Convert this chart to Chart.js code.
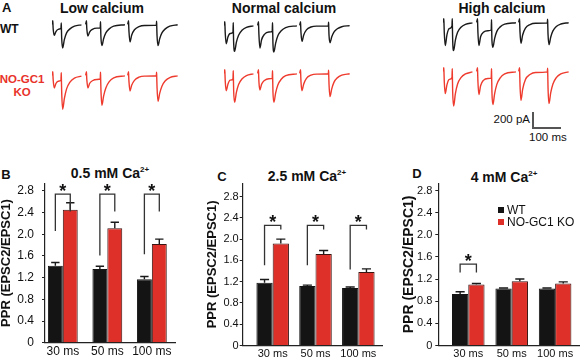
<!DOCTYPE html>
<html>
<head>
<meta charset="utf-8">
<script src="https://cdn.jsdelivr.net/npm/chart.js@4.4.1/dist/chart.umd.min.js"></script>
<style>
  body { margin: 0; background: #fff; }
  #fig { position: relative; width: 580px; height: 358px; overflow: hidden; font-family: "Liberation Sans", Arial, sans-serif; color: #111; }
  #fig canvas { position: absolute; }
  .lbl { position: absolute; white-space: nowrap; line-height: 1; }
  .c { transform: translate(-50%, -50%); }
  .v { transform: translateY(-50%); }
  .b { font-weight: bold; }
  .red { color: #e8322a; }
  sup { font-size: 8px; vertical-align: 6px; line-height: 0; }
  .sb { position: absolute; background: #555; }
  .key { position: absolute; width: 6px; height: 6px; }
</style>
</head>
<body>
<div id="fig">
  <!-- A: example traces -->
  <div class="lbl b" style="left:2px;top:1px;font-size:13px">A</div>
  <div class="lbl c b" style="left:102px;top:8px;font-size:14px">Low calcium</div>
  <div class="lbl c b" style="left:284px;top:8px;font-size:14px">Normal calcium</div>
  <div class="lbl c b" style="left:502px;top:8px;font-size:14px">High calcium</div>
  <div class="lbl v b" style="left:0;top:29px;font-size:12px">WT</div>
  <div class="lbl c b red" style="left:22px;top:80px;font-size:11.5px">NO-GC1</div>
  <div class="lbl c b red" style="left:22px;top:93px;font-size:11.5px">KO</div>

  <canvas id="lowWT" width="129" height="44" style="left:52px;top:19px"></canvas>
  <canvas id="lowKO" width="129" height="44" style="left:52px;top:70px"></canvas>
  <canvas id="normWT" width="129" height="44" style="left:224px;top:20px"></canvas>
  <canvas id="normKO" width="129" height="44" style="left:224px;top:68px"></canvas>
  <canvas id="highWT" width="129" height="44" style="left:443px;top:17px"></canvas>
  <canvas id="highKO" width="129" height="44" style="left:443px;top:66px"></canvas>

  <!-- scale bar -->
  <div class="sb" style="left:532px;top:112px;width:2px;height:17px"></div>
  <div class="sb" style="left:532px;top:127px;width:29px;height:2px"></div>
  <div class="lbl v" style="right:50px;top:120px;font-size:11.5px">200 pA</div>
  <div class="lbl v" style="left:529px;top:138px;font-size:11.5px">100 ms</div>

  <!-- B, C, D: paired-pulse ratios -->
  <div class="lbl c b" style="left:6px;top:174px;font-size:13px">B</div>
  <div class="lbl c b" style="left:110px;top:173px;font-size:14px">0.5 mM Ca<sup>2+</sup></div>
  <div class="lbl c b" style="left:222px;top:176px;font-size:13px">C</div>
  <div class="lbl c b" style="left:307px;top:176px;font-size:14px">2.5 mM Ca<sup>2+</sup></div>
  <div class="lbl c b" style="left:417px;top:173px;font-size:13px">D</div>
  <div class="lbl c b" style="left:504px;top:177px;font-size:14px">4 mM Ca<sup>2+</sup></div>

  <canvas id="pprB" width="185" height="208" style="left:0;top:150px"></canvas>
  <canvas id="pprC" width="200" height="208" style="left:190px;top:150px"></canvas>
  <canvas id="pprD" width="195" height="208" style="left:385px;top:150px"></canvas>

  <div class="key" style="left:498px;top:207px;background:#141414"></div>
  <div class="lbl v" style="left:507px;top:210px;font-size:12px">WT</div>
  <div class="key" style="left:498px;top:219px;background:#de2f28"></div>
  <div class="lbl v" style="left:507px;top:222px;font-size:12px">NO-GC1 KO</div>
</div>

<script>
// ---- bar chart data (PPR = EPSC2/EPSC1) ----
const intervals = ["30 ms", "50 ms", "100 ms"];
const pprTicks = [0, 0.4, 0.8, 1.2, 1.6, 2, 2.4, 2.8];

// B: 0.5 mM Ca
const wtB = [1.42, 1.36, 1.17];
const wtBErr = [0.06, 0.05, 0.05];
const koB = [2.45, 2.11, 1.82];
const koBErr = [0.13, 0.11, 0.09];
// brackets: top, end of WT leg, end of KO leg
const sigTopB = [2.74, 2.74, 2.74];
const sigWtB = [2.06, 1.61, 1.63];
const sigKoB = [2.42, 2.42, 2.42];

// C: 2.5 mM Ca
const wtC = [1.18, 1.12, 1.08];
const wtCErr = [0.06, 0.015, 0.02];
const koC = [1.92, 1.72, 1.38];
const koCErr = [0.08, 0.065, 0.06];
const sigTopC = [2.26, 2.26, 2.26];
const sigWtC = [1.51, 1.51, 1.43];
const sigKoC = [2.18, 2.18, 2.18];

// D: 4 mM Ca
const wtD = [0.93, 1.03, 1.03];
const wtDErr = [0.04, 0.01, 0.01];
const koD = [1.10, 1.16, 1.12];
const koDErr = [0.02, 0.04, 0.03];
const sigTopD = [1.47, null, null];
const sigWtD = [1.32, null, null];
const sigKoD = [1.32, null, null];

// ---- example traces: sample times (ms from sweep start) per interval ----
const t30 = [0, 3, 3.5, 4.5, 8, 14, 22, 32, 33, 33.5, 34.5, 38, 44, 52, 64, 80, 105];
const t50 = [0, 3, 3.5, 4.5, 8, 14, 24, 40, 52, 53, 53.5, 54.5, 58, 64, 72, 84, 100, 140];
const t100 = [0, 3, 3.5, 4.5, 8, 14, 24, 40, 60, 102, 103, 103.5, 104.5, 108, 114, 122, 134, 150, 178];
const sweepStart = [0, 120, 270];

// currents (pA), one sweep per interval: 30, 50, 100 ms
const lowWT = [
  [0, 40, -10, -60, -122, -80, -55, -42, 15, -40, -150, -263, -170, -95, -50, -20, -5],
  [0, 40, -10, -60, -130, -85, -55, -42, -38, 30, -30, -140, -235, -160, -95, -50, -20, -4],
  [0, 40, -10, -80, -195, -120, -60, -25, -12, -8, 35, -20, -120, -235, -160, -95, -50, -20, -4]
];
const lowKO = [
  [0, 40, -10, -60, -140, -90, -65, -55, 30, -40, -180, -378, -260, -150, -75, -30, -8],
  [0, 40, -10, -60, -140, -90, -60, -45, -40, 35, -30, -160, -333, -230, -140, -70, -28, -5],
  [0, 40, -10, -70, -174, -110, -55, -20, -8, -4, 35, -20, -130, -289, -200, -120, -60, -25, -5]
];
const normWT = [
  [0, 40, -10, -90, -204, -130, -90, -74, 30, -60, -200, -289, -190, -110, -55, -22, -5],
  [0, 40, -10, -100, -252, -160, -100, -74, -65, 30, -40, -200, -296, -200, -115, -60, -24, -5],
  [0, 40, -10, -80, -178, -110, -50, -18, -8, -5, 35, -20, -110, -193, -130, -75, -38, -15, -3]
];
const normKO = [
  [0, 40, -10, -90, -193, -120, -75, -60, 30, -50, -200, -322, -215, -125, -62, -25, -5],
  [0, 40, -10, -90, -185, -120, -80, -60, -55, 30, -40, -200, -322, -220, -130, -65, -26, -5],
  [0, 40, -10, -90, -193, -120, -55, -20, -8, -4, 35, -20, -120, -259, -175, -100, -50, -20, -4]
];
const highWT = [
  [0, 40, -10, -110, -259, -140, -70, -40, 40, -40, -200, -315, -200, -110, -55, -22, -5],
  [0, 40, -10, -110, -259, -160, -110, -93, -85, 30, -50, -200, -278, -180, -100, -50, -20, -4],
  [0, 40, -10, -100, -233, -140, -65, -25, -10, -6, 35, -20, -130, -248, -165, -95, -45, -18, -4]
];
const highKO = [
  [0, 40, -10, -110, -248, -150, -90, -70, 30, -60, -230, -385, -250, -140, -70, -28, -6],
  [0, 40, -10, -110, -259, -160, -100, -80, -75, 30, -50, -230, -370, -250, -145, -72, -28, -5],
  [0, 40, -10, -140, -322, -200, -90, -35, -12, -6, 35, -20, -180, -359, -240, -140, -70, -28, -5]
];

Chart.defaults.font.family = "'Liberation Sans', Arial, sans-serif";
Chart.defaults.color = "#111";

function traceChart(id, sweeps, color) {
  const times = [t30, t50, t100];
  new Chart(document.getElementById(id), {
    type: "line",
    data: {
      datasets: sweeps.map((vals, i) => ({
        data: vals.map((v, j) => ({ x: times[i][j] + sweepStart[i], y: v })),
        borderColor: color,
        borderWidth: 1.4,
        pointRadius: 0,
        cubicInterpolationMode: "monotone",
        clip: false
      }))
    },
    options: {
      responsive: false, animation: false, events: [],
      layout: { padding: 0 },
      plugins: { legend: { display: false }, tooltip: { enabled: false } },
      scales: {
        x: { type: "linear", display: false, min: 0, max: 460 },
        y: { display: false, min: -430, max: 60 }
      }
    }
  });
}

traceChart("lowWT", lowWT, "#1a1a1a");
traceChart("lowKO", lowKO, "#ee3b2e");
traceChart("normWT", normWT, "#1a1a1a");
traceChart("normKO", normKO, "#ee3b2e");
traceChart("highWT", highWT, "#1a1a1a");
traceChart("highKO", highKO, "#ee3b2e");

// upward SEM bars
const errorBars = {
  id: "errorBars",
  afterDatasetsDraw(chart) {
    const ctx = chart.ctx, y = chart.scales.y;
    ctx.save();
    ctx.strokeStyle = "#1a1a1a";
    ctx.lineWidth = 1.4;
    chart.data.datasets.forEach((ds, di) => {
      chart.getDatasetMeta(di).data.forEach((bar, i) => {
        const top = y.getPixelForValue(ds.data[i].y + ds.err[i]);
        const cap = bar.width * 0.28;
        ctx.beginPath();
        ctx.moveTo(bar.x, bar.y);
        ctx.lineTo(bar.x, top);
        ctx.moveTo(bar.x - cap, top);
        ctx.lineTo(bar.x + cap, top);
        ctx.stroke();
      });
    });
    ctx.restore();
  }
};

// significance brackets with asterisk
function sigBrackets(top, wtEnd, koEnd) {
  return {
    id: "sigBrackets",
    afterDatasetsDraw(chart) {
      const ctx = chart.ctx, y = chart.scales.y;
      const wt = chart.getDatasetMeta(0).data, ko = chart.getDatasetMeta(1).data;
      ctx.save();
      ctx.strokeStyle = "#333";
      ctx.lineWidth = 1.3;
      ctx.fillStyle = "#111";
      ctx.font = "bold 18px 'Liberation Sans', Arial, sans-serif";
      ctx.textAlign = "center";
      top.forEach((t, i) => {
        if (t === null) return;
        const x1 = wt[i].x, x2 = ko[i].x, yt = y.getPixelForValue(t);
        ctx.beginPath();
        ctx.moveTo(x1, y.getPixelForValue(wtEnd[i]));
        ctx.lineTo(x1, yt);
        ctx.lineTo(x2, yt);
        ctx.lineTo(x2, y.getPixelForValue(koEnd[i]));
        ctx.stroke();
        ctx.fillText("*", (x1 + x2) / 2, yt + 3);
      });
      ctx.restore();
    }
  };
}

function pprPanel(id, c) {
  new Chart(document.getElementById(id), {
    type: "bar",
    data: {
      datasets: [
        { label: "WT", data: c.wt.map((v, i) => ({ x: i, y: v })), err: c.wtErr,
          backgroundColor: "#141414", borderColor: "#141414", borderWidth: 1 },
        { label: "NO-GC1 KO", data: c.ko.map((v, i) => ({ x: i, y: v })), err: c.koErr,
          backgroundColor: "#de2f28", borderColor: "#3a1512", borderWidth: 1 }
      ]
    },
    options: {
      responsive: false, animation: false, events: [],
      layout: { padding: { top: c.padTop, right: c.padRight, left: 0, bottom: 0 } },
      datasets: { bar: { categoryPercentage: c.group, barPercentage: 1 } },
      plugins: { legend: { display: false }, tooltip: { enabled: false } },
      scales: {
        x: {
          type: "linear", offset: false, min: c.xMin, max: c.xMax,
          afterBuildTicks: s => { s.ticks = intervals.map((_, i) => ({ value: i })); },
          afterFit: s => { s.height = 12.5; },
          grid: { display: false, drawTicks: false },
          border: { color: "#222", width: 1.2 },
          ticks: { callback: v => intervals[v], autoSkip: false, maxRotation: 0, padding: 2,
                   font: { size: c.tickSize } }
        },
        y: {
          min: 0, max: c.yMax,
          afterBuildTicks: s => { s.ticks = pprTicks.map(v => ({ value: v })); },
          afterFit: s => { s.width = c.yWidth; },
          grid: { drawOnChartArea: false, tickLength: 3, color: "#222" },
          border: { color: "#222", width: 1.2 },
          ticks: { padding: c.tickPad, font: { size: c.tickSize } },
          title: { display: true, text: "PPR (EPSC2/EPSC1)",
                   font: { size: c.titleSize, weight: "bold", lineHeight: 1 },
                   padding: { top: c.titlePad, bottom: 0 } }
        }
      }
    },
    plugins: [errorBars, sigBrackets(c.sigTop, c.sigWt, c.sigKo)]
  });
}

pprPanel("pprB", { wt: wtB, wtErr: wtBErr, ko: koB, koErr: koBErr,
  sigTop: sigTopB, sigWt: sigWtB, sigKo: sigKoB,
  xMin: -0.40, xMax: 2.52, yMax: 2.94, group: 0.67,
  padTop: 33.2, padRight: 10, yWidth: 45, tickSize: 12, tickPad: 8, titleSize: 13, titlePad: 0 });

pprPanel("pprC", { wt: wtC, wtErr: wtCErr, ko: koC, koErr: koCErr,
  sigTop: sigTopC, sigWt: sigWtC, sigKo: sigKoC,
  xMin: -0.70, xMax: 2.56, yMax: 3.05, group: 0.76,
  padTop: 33.3, padRight: 7.7, yWidth: 52.7, tickSize: 11, tickPad: 1, titleSize: 13, titlePad: 16 });

pprPanel("pprD", { wt: wtD, wtErr: wtDErr, ko: koD, koErr: koDErr,
  sigTop: sigTopD, sigWt: sigWtD, sigKo: sigKoD,
  xMin: -0.69, xMax: 2.55, yMax: 2.93, group: 0.75,
  padTop: 33.3, padRight: 1, yWidth: 53.3, tickSize: 11, tickPad: 3, titleSize: 14, titlePad: 17 });
</script>
</body>
</html>
